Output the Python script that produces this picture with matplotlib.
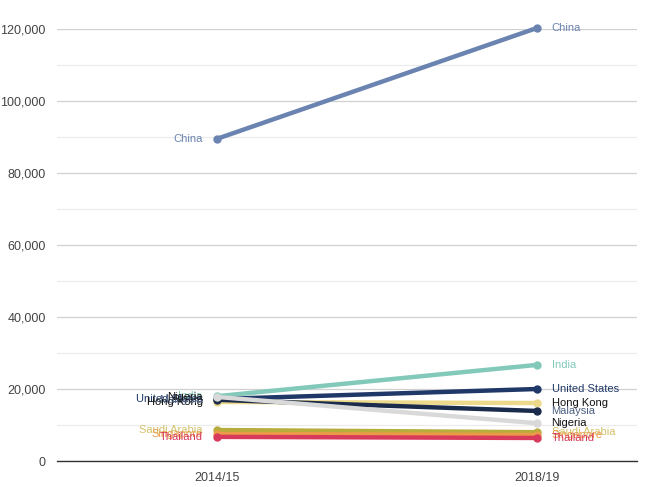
import matplotlib.pyplot as plt
import numpy as np

plt.rcParams["font.family"] = ["Liberation Sans", "DejaVu Sans"]

years = ["2014/15", "2018/19"]
countries = ["China", "India", "United States", "Hong Kong", "Malaysia",
             "Nigeria", "Saudi Arabia", "Singapore", "Thailand"]
start_vals = [89500, 18000, 17200, 16400, 17000, 17800, 8600, 7500, 6700]
end_vals = [120300, 26700, 20000, 16100, 13900, 10500, 8000, 7200, 6400]
line_colors = ["#6a83b0", "#82c9ba", "#1f3868", "#ecd98c", "#1b2b4b",
               "#d9d9d9", "#b8ac3c", "#eb9a48", "#d83a5c"]
label_colors = ["#6a83b0", "#82c9ba", "#1f3868", "#111111", "#4c5e80",
                "#111111", "#d3c26a", "#eb9a48", "#d83a5c"]

fig = plt.figure(figsize=(6.5, 4.87), dpi=100)
ax = fig.add_axes([57 / 650, 26 / 487, 580 / 650, 432 / 487])

x = np.arange(len(years))
for i, name in enumerate(countries):
    ax.plot(x, [start_vals[i], end_vals[i]], color=line_colors[i], lw=3.2,
            marker="o", ms=5, solid_capstyle="round", zorder=3 + i * 0.1,
            clip_on=False)
    ax.text(x[0] - 0.045, start_vals[i], name, color=label_colors[i],
            fontsize=8, ha="right", va="center", zorder=5)
    ax.text(x[1] + 0.045, end_vals[i], name, color=label_colors[i],
            fontsize=8, ha="left", va="center", zorder=5)

ax.set_xlim(-0.5, 1.312)
ax.set_ylim(0, 120000)
ax.set_yticks(np.arange(0, 120001, 20000))
ax.set_yticks(np.arange(10000, 120000, 20000), minor=True)
ax.set_yticklabels([f"{v:,}" for v in range(0, 120001, 20000)])
ax.set_xticks(x)
ax.set_xticklabels(years)

ax.grid(axis="y", which="major", color="#d0d0d0", lw=0.9, zorder=0)
ax.grid(axis="y", which="minor", color="#ececec", lw=0.9, zorder=0)
ax.grid(axis="x", visible=False)
ax.tick_params(axis="both", length=0, labelsize=9, colors="#444444")
ax.tick_params(axis="y", pad=8)
ax.tick_params(axis="x", pad=8)
ax.tick_params(which="minor", length=0)

for side in ["top", "right", "left"]:
    ax.spines[side].set_visible(False)
ax.spines["bottom"].set_color("#333333")
ax.spines["bottom"].set_linewidth(1.0)

fig.savefig("out.png", dpi=100)
